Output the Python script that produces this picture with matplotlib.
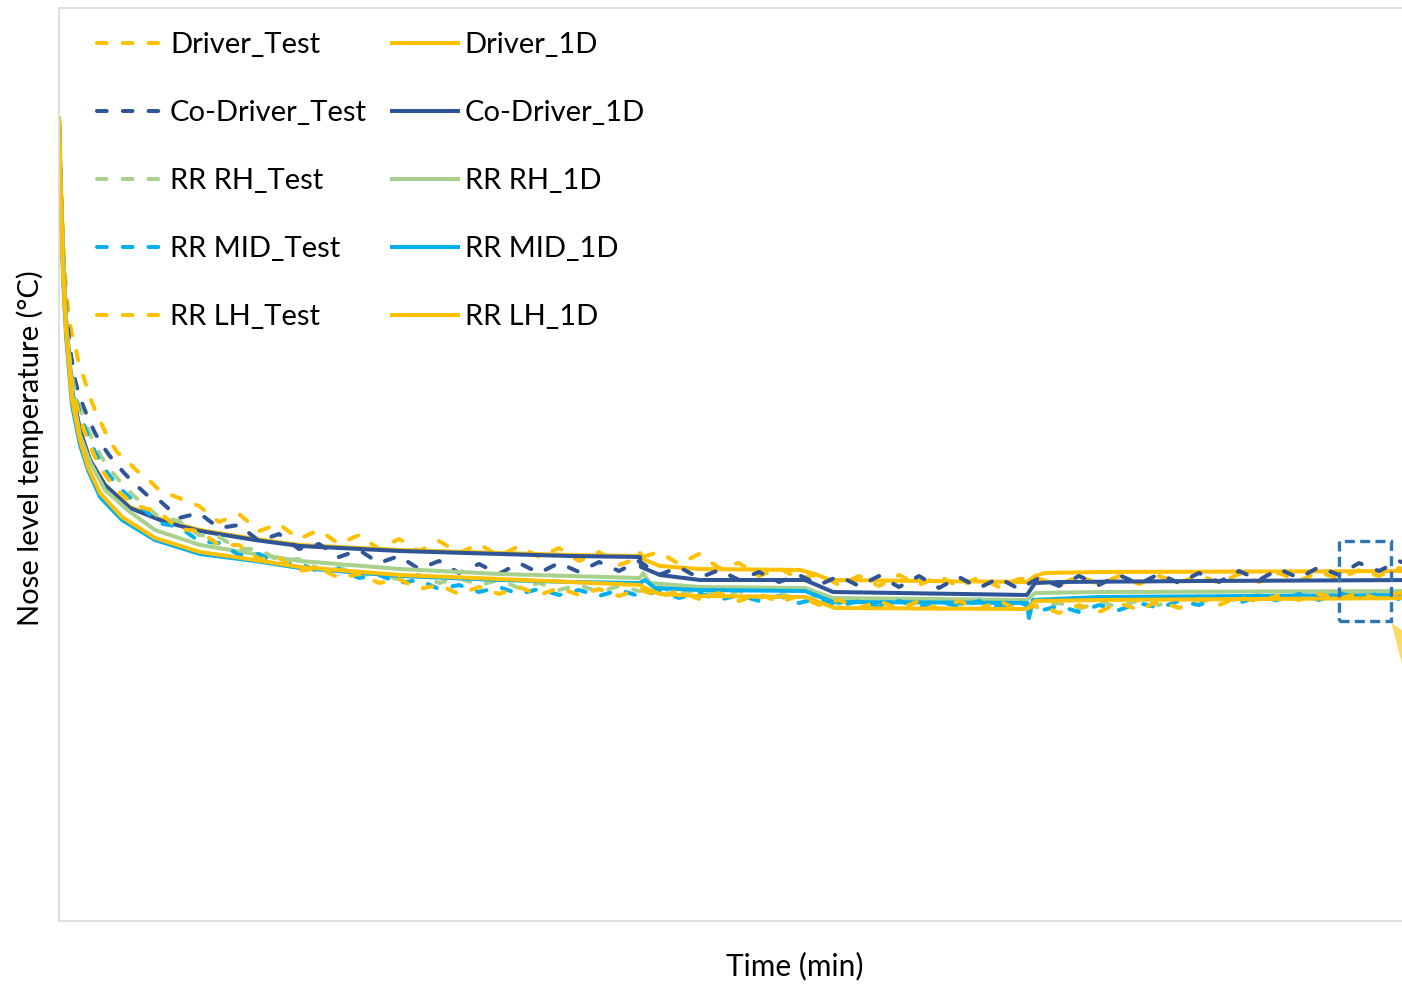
import matplotlib
matplotlib.use("Agg")
import matplotlib.pyplot as plt
from matplotlib.patches import Rectangle

plt.rcParams['font.family'] = ['Lato', 'DejaVu Sans']

# test data (all test channels logged on the same time base, min)
t_test = [0, 0.2, 0.5, 0.8, 1.2, 1.6, 2.0, 2.5, 3.0, 3.6, 4.3, 5.0, 5.8, 6.7, 7.7, 8.8,
          10, 12, 14, 16, 18, 20, 22, 24, 26, 28, 30, 32, 34, 36, 38, 40, 42, 44, 46, 48,
          50, 52, 54, 56, 58, 60, 62, 64, 66, 68, 70, 72, 74, 76, 78, 80, 82, 84, 86, 88,
          90, 92, 94, 96, 98, 100, 102, 104, 106, 108, 110, 112, 114, 116, 118, 120,
          122, 124, 126, 128, 130, 132, 134, 136]

driver_test = [44.0, 41.0, 37.0, 35.0, 33.5, 32.75, 31.75, 31.1, 30.25, 29.5, 28.75, 28.0, 27.4, 27.0, 26.5, 26.1,
               25.5, 25.1, 24.7, 23.9, 24.3, 23.45, 23.8, 23.05, 23.5, 22.8,
               23.25, 22.55, 23.05, 22.45, 22.95, 22.35, 22.8, 22.2, 22.7, 22.15,
               22.6, 21.95, 22.4, 21.75, 22.1, 22.4, 21.8, 22.3, 21.6, 21.85,
               21.2, 21.6, 21.05, 21.3, 20.75, 21.2, 20.7, 21.25, 20.75, 21.2,
               20.65, 21.15, 20.65, 21.05, 21.05, 20.75, 21.2, 20.8, 21.2, 20.8,
               21.2, 20.85, 21.25, 20.85, 21.3, 20.9, 21.35, 20.95, 21.4, 21.05,
               21.5, 21.2, 21.6, 21.3]
codriver_test = [43.9, 40.0, 36.0, 34.0, 32.25, 31.0, 30.25, 29.6, 29.0, 28.35, 27.75, 27.25, 26.75, 26.25, 25.75, 25.25,
                 25.0, 24.1, 24.35, 23.6, 23.75, 22.95, 23.3, 22.55, 22.8, 22.15,
                 22.5, 21.85, 22.2, 21.55, 21.95, 21.35, 21.8, 21.3, 21.85, 21.35,
                 21.85, 21.4, 21.9, 21.45, 21.95, 21.25, 21.65, 21.1, 21.5, 21.0,
                 21.4, 20.9, 21.25, 20.75, 21.2, 20.7, 21.2, 20.65, 21.2, 20.6,
                 21.15, 20.6, 21.1, 20.55, 21.1, 20.7, 21.2, 20.75, 21.25, 20.8,
                 21.3, 20.85, 21.35, 20.9, 21.45, 21.0, 21.55, 21.1, 21.65, 21.25,
                 21.85, 21.45, 21.95, 21.55]
rrrh_test = [43.9, 39.25, 35.0, 33.25, 31.5, 30.4, 29.75, 29.0, 28.4, 27.75, 27.1, 26.6, 26.1, 25.6, 25.1, 24.65,
             24.15, 23.95, 23.25, 23.15, 22.55, 22.55, 21.95, 22.05, 21.55, 21.65,
             21.2, 21.4, 21.0, 21.25, 20.85, 21.1, 20.75, 21.0, 20.6, 20.85,
             20.5, 20.75, 20.4, 20.7, 20.45, 20.65, 20.3, 20.55, 20.2, 20.45,
             20.1, 20.35, 20.0, 20.2, 19.8, 20.05, 19.75, 20.05, 19.75, 20.05,
             19.75, 20.05, 19.75, 20.0, 19.6, 19.85, 19.55, 19.9, 19.65, 20.0,
             19.75, 20.1, 19.85, 20.2, 19.95, 20.3, 20.0, 20.35, 20.05, 20.4,
             20.1, 20.4, 20.1, 20.35]
rrmid_test = [44.1, 39.75, 35.25, 33.25, 31.4, 30.25, 29.5, 28.75, 28.1, 27.4, 26.75, 26.25, 25.75, 25.3, 24.85, 24.4,
              23.85, 23.65, 22.95, 22.85, 22.25, 22.3, 21.75, 21.85, 21.4, 21.55,
              21.1, 21.25, 20.85, 21.0, 20.55, 20.75, 20.4, 20.65, 20.3, 20.55,
              20.25, 20.5, 20.2, 20.5, 20.2, 20.45, 20.1, 20.35, 20.0, 20.25,
              19.95, 20.2, 19.85, 20.1, 19.7, 19.95, 19.65, 19.95, 19.65, 19.95,
              19.65, 19.95, 19.65, 19.9, 19.45, 19.7, 19.4, 19.75, 19.5, 19.85,
              19.6, 19.95, 19.75, 20.1, 19.85, 20.2, 19.95, 20.3, 20.0, 20.35,
              20.05, 20.35, 20.05, 20.3]
rrlh_test = [44.1, 39.5, 35.1, 33.1, 31.25, 30.1, 29.3, 28.5, 27.85, 27.15, 26.5, 26.0, 25.5, 25.1, 24.75, 24.55,
             24.4, 23.55, 23.45, 22.75, 22.75, 22.05, 22.1, 21.45, 21.6, 21.1,
             21.3, 20.85, 21.05, 20.55, 20.75, 20.3, 20.65, 20.3, 20.65, 20.25,
             20.6, 20.25, 20.55, 20.2, 20.55, 20.15, 20.45, 20.05, 20.35, 19.95,
             20.3, 19.9, 20.2, 19.75, 20.0, 19.6, 19.95, 19.55, 19.95, 19.55,
             19.95, 19.55, 19.95, 19.5, 19.75, 19.35, 19.75, 19.4, 19.85, 19.5,
             19.95, 19.6, 20.05, 19.75, 20.15, 19.9, 20.25, 20.0, 20.3, 20.05,
             20.35, 20.05, 20.35, 20.1]

# 1D model results
t_driver_1d = [0, 0.3, 0.7, 1.3, 2.1, 3.1, 4.6, 7.1, 10.6, 14.1, 19.6, 24.1, 34.1, 44.1, 51.1, 58.0,
               58.1, 58.6, 60.1, 64.1, 74.1, 75.6, 77.1, 96.8, 97.6, 98.6, 104.1, 136.1]
driver_1d = [43.9, 38.5, 34.0, 30.5, 28.5, 27.0, 25.75, 24.65, 23.95, 23.5, 23.05, 22.75, 22.5, 22.35, 22.25, 22.2,
             22.35, 22.0, 21.7, 21.55, 21.5, 21.3, 21.0, 20.9, 21.2, 21.35, 21.4, 21.45]
t_codriver_1d = [0, 0.3, 0.7, 1.3, 2.1, 3.1, 4.6, 7.1, 10.6, 14.1, 19.6, 24.1, 34.1, 44.1, 51.1, 58.1,
                 58.2, 60.1, 64.1, 74.6, 77.4, 96.8, 97.6, 100.1, 114.1, 136.1]
codriver_1d = [43.9, 38.5, 34.0, 30.5, 28.5, 27.0, 25.75, 24.6, 23.9, 23.45, 23.0, 22.7, 22.45, 22.3, 22.2, 22.15,
               21.65, 21.25, 21.0, 21.0, 20.4, 20.25, 20.85, 20.9, 20.95, 21.0]
t_rrrh_1d = [0, 0.3, 0.7, 1.3, 2.1, 3.1, 4.6, 7.1, 9.6, 14.1, 19.6, 24.1, 34.1, 44.1, 51.1, 58.1,
             58.4, 59.1, 64.1, 74.6, 77.4, 96.8, 97.6, 104.1, 136.1]
rrrh_1d = [43.9, 38.75, 34.1, 30.4, 28.25, 26.9, 25.5, 24.4, 23.5, 22.75, 22.3, 21.95, 21.55, 21.3, 21.2, 21.1,
           21.35, 20.85, 20.65, 20.6, 20.1, 20.0, 20.35, 20.4, 20.45]
t_rrmid_1d = [0, 0.2, 0.4, 0.7, 1.3, 2.1, 2.9, 4.1, 6.3, 9.6, 14.1, 19.6, 24.1, 34.1, 44.1, 51.1, 58.1,
              58.6, 59.6, 64.1, 74.6, 77.4, 96.8, 97.0, 97.4, 104.1, 136.1]
rrmid_1d = [43.9, 39.75, 36.25, 33.25, 29.75, 27.75, 26.5, 25.15, 24.0, 23.0, 22.3, 21.95, 21.6, 21.2, 21.0, 20.9, 20.85,
            21.0, 20.6, 20.5, 20.45, 19.9, 19.85, 19.1, 20.0, 20.15, 20.25]
t_rrlh_1d = [0, 0.2, 0.4, 0.7, 1.3, 2.1, 2.9, 4.1, 6.3, 9.6, 14.1, 19.6, 24.1, 34.1, 44.1, 51.1, 58.1,
             58.6, 60.1, 64.1, 74.6, 77.6, 96.8, 97.6, 104.1, 136.1]
rrlh_1d = [44.0, 40.0, 36.5, 33.5, 30.0, 28.0, 26.65, 25.35, 24.15, 23.1, 22.4, 22.0, 21.65, 21.25, 21.05, 20.9, 20.75,
           20.6, 20.3, 20.2, 20.15, 19.6, 19.55, 19.95, 20.0, 20.1]

# highlighted window at the end of the run
box_t = (128.0, 133.2)
box_temp = (18.95, 22.95)

yellow = '#FFC000'
blue = '#2F5597'
green = '#A9D18E'
cyan = '#00B0F0'

fig = plt.figure(figsize=(14.02, 9.84), dpi=100)
ax = fig.add_axes([59 / 1402, 63 / 984, 1472 / 1402, 913 / 984])

lw = 2.9
dash = (2.4, 4.0)
series = [
    (t_test, driver_test, yellow, True, 'Driver_Test'),
    (t_driver_1d, driver_1d, yellow, False, 'Driver_1D'),
    (t_test, codriver_test, blue, True, 'Co-Driver_Test'),
    (t_codriver_1d, codriver_1d, blue, False, 'Co-Driver_1D'),
    (t_test, rrrh_test, green, True, 'RR RH_Test'),
    (t_rrrh_1d, rrrh_1d, green, False, 'RR RH_1D'),
    (t_test, rrmid_test, cyan, True, 'RR MID_Test'),
    (t_rrmid_1d, rrmid_1d, cyan, False, 'RR MID_1D'),
    (t_test, rrlh_test, yellow, True, 'RR LH_Test'),
    (t_rrlh_1d, rrlh_1d, yellow, False, 'RR LH_1D'),
]
lines = {}
for t, y, c, is_test, name in series:
    if is_test:
        ln, = ax.plot(t, y, color=c, lw=lw, dashes=dash, dash_capstyle='round',
                      solid_joinstyle='round', label=name)
    else:
        ln, = ax.plot(t, y, color=c, lw=lw, solid_joinstyle='round', label=name)
    lines[name] = ln

ax.add_patch(Rectangle((box_t[0], box_temp[0]), box_t[1] - box_t[0], box_temp[1] - box_temp[0],
                       fill=False, ec='#2E75B6', lw=2.4, ls=(0, (3, 1.6)), zorder=5))
# callout arrow pointing back at the box (mostly outside the crop)
ax.annotate('', xy=(box_t[1] + 0.05, box_temp[0] - 0.1), xytext=(box_t[1] + 3.5, box_temp[0] - 2.6),
            arrowprops=dict(arrowstyle='simple,head_width=1.4,head_length=1.9,tail_width=0.6',
                            mutation_scale=22, color='#FFD966', lw=0, shrinkA=0, shrinkB=0),
            annotation_clip=False)

ax.set_xlim(0, 147.2)
ax.set_ylim(3.95, 49.6)
ax.set_xticks([])
ax.set_yticks([])
for s in ['left', 'bottom', 'top']:
    ax.spines[s].set_color('#D9D9D9')
    ax.spines[s].set_linewidth(1.2)
ax.spines['right'].set_visible(False)

order = ['Driver_Test', 'Co-Driver_Test', 'RR RH_Test', 'RR MID_Test', 'RR LH_Test',
         'Driver_1D', 'Co-Driver_1D', 'RR RH_1D', 'RR MID_1D', 'RR LH_1D']
fig.legend([lines[n] for n in order], order, ncol=2, loc='upper left',
           bbox_to_anchor=(97 / 1402, (984 - 32) / 984), frameon=False, fontsize=21,
           handlelength=2.26, handletextpad=0.24, columnspacing=0.85, labelspacing=1.44,
           borderpad=0, borderaxespad=0)

fig.text(795 / 1402, (984 - 966) / 984, 'Time (min)', ha='center', va='center', fontsize=21.5)
fig.text(30 / 1402, (984 - 448) / 984, 'Nose level temperature (°C)', ha='center', va='center',
         rotation=90, fontsize=21)

fig.savefig('out.png', dpi=100)
